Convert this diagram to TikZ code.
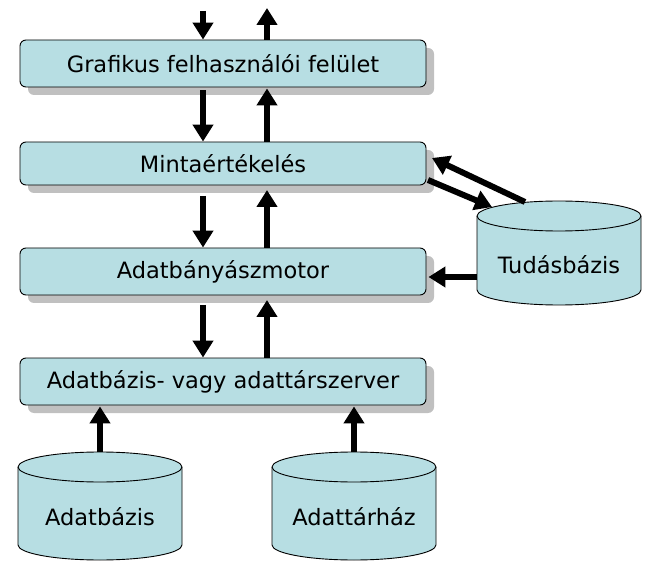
\documentclass[tikz,border=0pt]{standalone}
\usepackage{fontspec}
\setmainfont{DejaVu Sans}
\usetikzlibrary{arrows.meta}
\definecolor{boxfill}{RGB}{183,222,227}
\definecolor{shadowgray}{RGB}{192,192,192}
\begin{document}
\begin{tikzpicture}[x=1pt,y=1pt,
  layer/.style={draw=black,line width=0.9pt,fill=boxfill,rounded corners=6pt,
    minimum width=406pt,inner sep=0pt,font=\fontsize{22.5}{25}\selectfont},
  arr/.style={line width=6pt,-{Triangle[width=20pt,length=17pt]}},
  cyl/.style={draw=black,line width=0.9pt,fill=boxfill},
  lbl/.style={font=\fontsize{22.5}{25}\selectfont,inner sep=0pt}]
\useasboundingbox (0,0) rectangle (664,571);
% shadows
\foreach \yc/\h in {507.5/47, 407.5/43, 299.5/47, 189.5/47}
  \fill[shadowgray,rounded corners=6pt] (28,\yc-\h/2-8) rectangle (434,\yc+\h/2-8);
% boxes
\node[layer,minimum height=47pt] (gui) at (223,507.5) {Grafikus felhasználói felület};
\node[layer,minimum height=43pt] (eval) at (223,407.5) {Mintaértékelés};
\node[layer,minimum height=47pt] (motor) at (223,299.5) {Adatbányászmotor};
\node[layer,minimum height=47pt] (server) at (223,189.5) {Adatbázis- vagy adattárszerver};
% cylinders
\newcommand{\cylinder}[5]{% name, left, right, bottom, top
  \pgfmathsetmacro{\rx}{(#3-#2)/2}
  \pgfmathsetmacro{\cx}{(#3+#2)/2}
  \draw[cyl] (#2,#5-15) -- (#2,#4+15) arc[start angle=180,end angle=360,x radius=\rx,y radius=15]
    -- (#3,#5-15) arc[start angle=0,end angle=180,x radius=\rx,y radius=15] -- cycle;
  \draw[line width=0.9pt] (#2,#5-15) arc[start angle=180,end angle=360,x radius=\rx,y radius=15];
  \coordinate (#1top) at (\cx,#5);
}
\cylinder{kb}{477}{641}{266}{370}
\node[lbl] (kbl) at (559,306) {Tudásbázis};
\cylinder{db}{18}{182}{11}{119}
\node[lbl] (dbl) at (100,54) {Adatbázis};
\cylinder{dw}{272}{436}{11}{119}
\node[lbl] (dwl) at (354,54) {Adattárház};
% free ends at top
\coordinate (inTop) at (203,560);
\coordinate (outTop) at (267,563);
\draw[arr] (inTop) -- (gui.north -| inTop);
\draw[arr] (gui.north -| outTop) -- (outTop);
% gui <-> eval
\draw[arr] ([yshift=-3pt]gui.south -| inTop) -- (eval.north -| inTop);
\draw[arr] (eval.north -| outTop) -- ([yshift=-1pt]gui.south -| outTop);
% eval <-> motor
\coordinate (e1) at (203,375);
\coordinate (e2) at (267,381);
\draw[arr] (e1) -- (motor.north -| e1);
\draw[arr] (motor.north -| e2) -- (e2);
% motor <-> server
\coordinate (m1) at (203,266);
\coordinate (m2) at (267,271);
\draw[arr] (m1) -- (server.north -| m1);
\draw[arr] (server.north -| m2) -- (m2);
% knowledge base
\coordinate (kbA) at (525,369);
\coordinate (evA) at (432,413);
\coordinate (evB) at (428,391);
\coordinate (kbB) at (492,364);
\draw[arr] (kbA) -- (evA);
\draw[arr] (evB) -- (kbB);
\coordinate (kbC) at (477,294);
\draw[arr] (kbC) -- ([xshift=2pt]motor.east |- kbC);
% databases
\draw[arr] (dbtop) -- ([yshift=-1pt]server.south -| dbtop);
\draw[arr] (dwtop) -- ([yshift=-1pt]server.south -| dwtop);
\end{tikzpicture}
\end{document}
